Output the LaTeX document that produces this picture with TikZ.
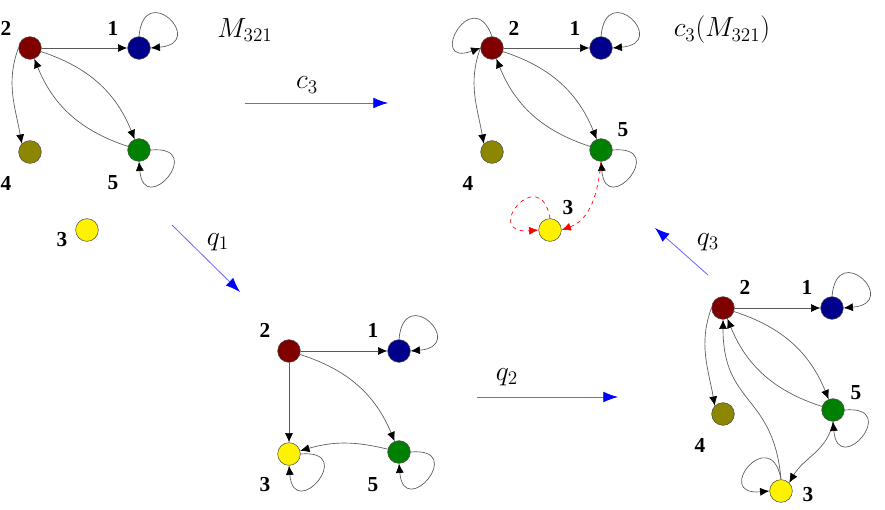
\documentclass[tikz,border=0pt]{standalone}
\usepackage{fontspec}
\setmainfont{Liberation Serif}
\usetikzlibrary{arrows.meta}
\begin{document}
\begin{tikzpicture}[x=0.75pt,y=-0.75pt,
  v/.style={circle,draw=black!70,line width=0.4pt,minimum size=17pt,inner sep=0pt},
  lab/.style={font=\bfseries\fontsize{16}{16}\selectfont},
  e/.style={draw=black!65,line width=0.5pt,-{Latex[length=7pt,width=6pt,black]}},
  rd/.style={draw=red,dashed,line width=0.5pt,-{Latex[length=7pt,width=6pt,red]}},
  mp/.style={draw=blue!60,line width=0.6pt,-{Latex[length=11pt,width=8pt,blue]}},
  ml/.style={font=\fontsize{20}{20}\selectfont}]
\useasboundingbox (0,0) rectangle (885,510);
\colorlet{cR}{red!50!black}\colorlet{cB}{blue!55!black}\colorlet{cO}{olive}\colorlet{cG}{green!50!black}
% Graph A
\node[v,fill=cR] (a2) at (30,48) {};
\node[v,fill=cB] (a1) at (139,48) {};
\node[v,fill=cO] (a4) at (30,152) {};
\node[v,fill=cG] (a5) at (139,150) {};
\node[v,fill=yellow] (a3) at (87,230) {};
\node[lab] (la2) at (6,28) {2};\node[lab] (la1) at (113,28) {1};
\node[lab] (la4) at (6,183) {4};\node[lab] (la5) at (113,183) {5};
\node[lab] (la3) at (62,240) {3};
\node[ml] (mA) at (245,30) {$M_{321}$};
\draw[e] (a2) -- (a1);
\draw[e] (a2.west) to[out=250,in=100] (a4.north west);
\draw[e] (a2) to[bend left=25] (a5);
\draw[e] (a5) to[bend left=25] (a2);
\draw[e] (a1.north) to[out=85,in=5,looseness=9] (a1.east);
\draw[e] (a5.east) to[out=5,in=-85,looseness=9] (a5.south);
% c3
\coordinate (c3s) at (245,103);\coordinate (c3e) at (388,103);
\draw[mp] (c3s) -- (c3e);
\node[ml] (lc3) at (307,85) {$c_3$};
% Graph B
\node[v,fill=cR] (b2) at (492,48) {};
\node[v,fill=cB] (b1) at (601,48) {};
\node[v,fill=cO] (b4) at (492,152) {};
\node[v,fill=cG] (b5) at (601,150) {};
\node[v,fill=yellow] (b3) at (550,230) {};
\node[lab] (lb2) at (514,28) {2};\node[lab] (lb1) at (575,28) {1};
\node[lab] (lb4) at (468,183) {4};\node[lab] (lb5) at (623,130) {5};
\node[lab] (lb3) at (568,208) {3};
\node[ml] (mB) at (722,30) {$c_3(M_{321})$};
\draw[e] (b2) -- (b1);
\draw[e] (b2.west) to[out=250,in=100] (b4.north west);
\draw[e] (b2) to[bend left=25] (b5);
\draw[e] (b5) to[bend left=25] (b2);
\draw[e] (b1.north) to[out=85,in=5,looseness=9] (b1.east);
\draw[e] (b5.east) to[out=5,in=-85,looseness=9] (b5.south);
\draw[e] (b2.north) to[out=110,in=200,looseness=9] (b2.west);
\draw[rd] (b5.south) to[out=-95,in=20] (b3.east);
\draw[rd] (b3.north) to[out=100,in=185,looseness=9] (b3.west);
% q1
\coordinate (q1s) at (172,225);\coordinate (q1e) at (240,292);
\draw[mp] (q1s) -- (q1e);
\node[ml] (lq1) at (218,242) {$q_1$};
% Graph C
\node[v,fill=cR] (c2) at (289,351) {};
\node[v,fill=cB] (c1) at (399,351) {};
\node[v,fill=yellow] (c3) at (289,454) {};
\node[v,fill=cG] (c5) at (399,452) {};
\node[lab] (lc2) at (265,330) {2};\node[lab] (lc1) at (373,330) {1};
\node[lab] (lcc3) at (265,485) {3};\node[lab] (lc5) at (373,485) {5};
\draw[e] (c2) -- (c3);
\draw[e] (c2) -- (c1);
\draw[e] (c2) to[bend left=25] (c5);
\draw[e] (c5) to[bend right=15] (c3);
\draw[e] (c1.north) to[out=85,in=5,looseness=9] (c1.east);
\draw[e] (c5.east) to[out=5,in=-85,looseness=9] (c5.south);
\draw[e] (c3.east) to[out=5,in=-85,looseness=9] (c3.south);
% q2
\coordinate (q2s) at (477,397);\coordinate (q2e) at (618,397);
\draw[mp] (q2s) -- (q2e);
\node[ml] (lq2) at (507,377) {$q_2$};
% Graph D
\node[v,fill=cR] (d2) at (723,308) {};
\node[v,fill=cB] (d1) at (832,308) {};
\node[v,fill=cO] (d4) at (723,414) {};
\node[v,fill=cG] (d5) at (833,410) {};
\node[v,fill=yellow] (d3) at (781,491) {};
\node[lab] (ld2) at (745,287) {2};\node[lab] (ld1) at (807,287) {1};
\node[lab] (ld4) at (700,445) {4};\node[lab] (ld5) at (856,393) {5};
\node[lab] (ld3) at (808,495) {3};
\draw[e] (d2) -- (d1);
\draw[e] (d2.west) to[out=250,in=100] (d4.north west);
\draw[e] (d2) to[bend left=25] (d5);
\draw[e] (d5) to[bend left=25] (d2);
\draw[e] (d3.north) to[out=95,in=-90,looseness=1.3] (d2.south);
\draw[e] (d5.south) to[out=-100,in=60] (d3.north east);
\draw[e] (d1.north) to[out=85,in=5,looseness=9] (d1.east);
\draw[e] (d5.east) to[out=5,in=-85,looseness=9] (d5.south);
\draw[e] (d3.north) to[out=100,in=185,looseness=9] (d3.west);
% q3
\coordinate (q3s) at (708,275);\coordinate (q3e) at (655,228);
\draw[mp] (q3s) -- (q3e);
\node[ml] (lq3) at (708,242) {$q_3$};
\end{tikzpicture}
\end{document}
